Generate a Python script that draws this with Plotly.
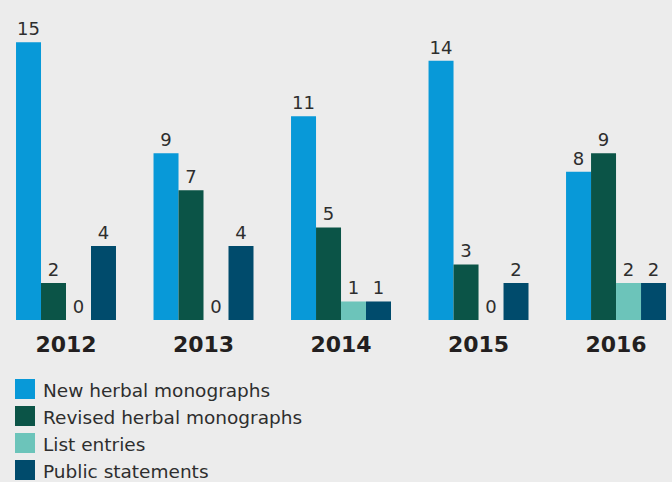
import plotly.graph_objects as go

years = ["2012", "2013", "2014", "2015", "2016"]
new_monographs = [15, 9, 11, 14, 8]
revised_monographs = [2, 7, 5, 3, 9]
list_entries = [0, 0, 1, 0, 2]
public_statements = [4, 4, 1, 2, 2]

series = [
    ("New herbal monographs", new_monographs, "#0899d8"),
    ("Revised herbal monographs", revised_monographs, "#0b5447"),
    ("List entries", list_entries, "#6cc4ba"),
    ("Public statements", public_statements, "#004b6c"),
]

W, H = 672, 482
PLOT_H = 320  # pixel height of the bar area
bg = "#ececec"
txt = "#2e2e2e"

fig = go.Figure()
for name, vals, color in series:
    fig.add_trace(go.Bar(
        x=years, y=vals, name=name,
        marker=dict(color=color, line=dict(width=0)),
        text=vals, textposition="outside", cliponaxis=False,
        textfont=dict(family="DejaVu Sans", size=18, color=txt),
        showlegend=False,
    ))


def py(p):
    # pixel row -> paper y
    return (PLOT_H - p) / PLOT_H


# hand-drawn legend with big square swatches
shapes, annotations = [], []
for i, (name, vals, color) in enumerate(series):
    cy = 389 + 27 * i
    shapes.append(dict(type="rect", xref="paper", yref="paper",
                       x0=15 / W, x1=35 / W, y0=py(cy + 10), y1=py(cy - 10),
                       fillcolor=color, line=dict(width=0)))
    annotations.append(dict(text=name, xref="paper", yref="paper",
                            x=41 / W, y=py(cy + 1), xanchor="left", yanchor="middle",
                            showarrow=False,
                            font=dict(family="DejaVu Sans", size=18.5, color=txt)))

fig.update_layout(
    width=W, height=H,
    margin=dict(l=0, r=0, t=0, b=H - PLOT_H, pad=0),
    paper_bgcolor=bg, plot_bgcolor=bg,
    barmode="group", bargap=0.273, bargroupgap=0,
    shapes=shapes, annotations=annotations,
    xaxis=dict(range=[-0.48, 4.407], showgrid=False, zeroline=False, showline=False,
               ticks="", ticklabelstandoff=9,
               tickfont=dict(family="DejaVu Sans", size=22, color="#231f20", weight="bold")),
    yaxis=dict(range=[0, 17.28], visible=False, showgrid=False, zeroline=False),
)

# page body margin would push the chart off the window edges
fig.write_html("out.html", config={"displayModeBar": False},
               post_script="document.body.style.margin='0';")
